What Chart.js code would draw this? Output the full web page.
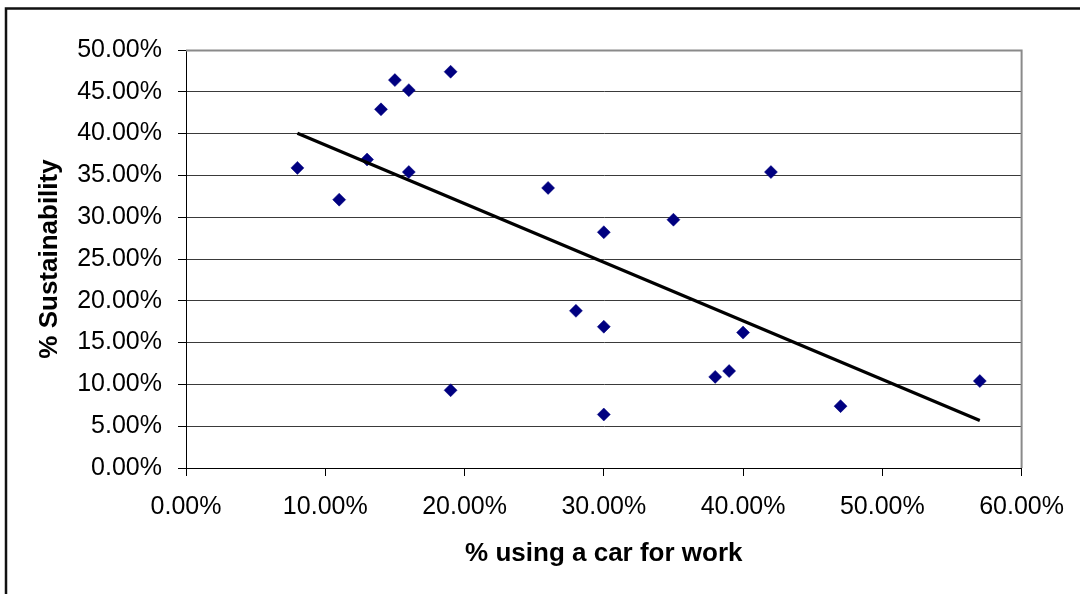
<!DOCTYPE html>
<html>
<head>
<meta charset="utf-8">
<title>% Sustainability vs % using a car for work</title>
<script src="https://cdn.jsdelivr.net/npm/chart.js@4.4.1/dist/chart.umd.min.js"></script>
<style>
  html, body { margin: 0; padding: 0; background: #fff; overflow: hidden; }
  canvas { display: block; }
</style>
</head>
<body>
<canvas id="chart" width="1080" height="594"></canvas>
<script>
// Share of people using a car for work (%), one entry per area
const carUse = [8, 11, 13, 14, 15, 16, 16, 19, 19, 26, 28, 30, 30, 30, 35, 38, 39, 40, 42, 47, 57];
// Sustainability score (%) for the same areas
const sustainability = [35.9, 32.1, 36.9, 42.9, 46.4, 45.2, 35.4, 47.4, 9.3, 33.5, 18.8, 28.2, 16.9, 6.4, 29.7, 10.9, 11.6, 16.2, 35.4, 7.4, 10.4];
// Axis tick values (%)
const xTickValues = [0, 10, 20, 30, 40, 50, 60];
const yTickValues = [0, 5, 10, 15, 20, 25, 30, 35, 40, 45, 50];
const xTitle = '% using a car for work';
const yTitle = '% Sustainability';

const points = carUse.map((x, i) => ({ x: x, y: sustainability[i] }));

// Least-squares linear trend line across the data range
function linearTrend(xs, ys) {
  const n = xs.length;
  const mx = xs.reduce((a, b) => a + b, 0) / n;
  const my = ys.reduce((a, b) => a + b, 0) / n;
  let sxy = 0, sxx = 0;
  for (let i = 0; i < n; i++) {
    sxy += (xs[i] - mx) * (ys[i] - my);
    sxx += (xs[i] - mx) * (xs[i] - mx);
  }
  const slope = sxy / sxx;
  const intercept = my - slope * mx;
  const x0 = Math.min(...xs), x1 = Math.max(...xs);
  return [{ x: x0, y: intercept + slope * x0 }, { x: x1, y: intercept + slope * x1 }];
}
const trend = linearTrend(carUse, sustainability);

const FONT = '"Liberation Sans", Arial, Helvetica, sans-serif';
const pct = v => Number(v).toFixed(2) + '%';

// Outer frame and the grey plot-area edges
const framePlugin = {
  id: 'frame',
  beforeDraw(chart) {
    const ctx = chart.ctx;
    ctx.save();
    ctx.fillStyle = '#fff';
    ctx.fillRect(0, 0, chart.width, chart.height);
    ctx.strokeStyle = '#111';
    ctx.lineWidth = 2.5;
    ctx.strokeRect(6, 8.5, chart.width + 20, chart.height + 20);
    ctx.restore();
  },
  beforeDatasetsDraw(chart) {
    const { ctx, chartArea: a } = chart;
    ctx.save();
    ctx.strokeStyle = '#8a8a8a';
    ctx.lineWidth = 2;
    ctx.beginPath();
    ctx.moveTo(a.left, a.top + 0.5);
    ctx.lineTo(a.right, a.top + 0.5);
    ctx.lineTo(a.right, a.bottom);
    ctx.stroke();
    ctx.restore();
  }
};

new Chart(document.getElementById('chart'), {
  type: 'scatter',
  data: {
    datasets: [
      {
        type: 'line',
        label: 'Linear trend',
        data: trend,
        borderColor: '#000',
        borderWidth: 3.2,
        pointRadius: 0,
        fill: false,
        order: 0
      },
      {
        label: yTitle,
        data: points,
        pointStyle: 'rectRot',
        pointRadius: 6.5,
        pointBorderWidth: 0.5,
        backgroundColor: '#000080',
        borderColor: '#000080',
        order: 1
      }
    ]
  },
  options: {
    responsive: false,
    animation: false,
    devicePixelRatio: 1,
    layout: { padding: { left: 0, top: 50, right: 57, bottom: 0 } },
    plugins: { legend: { display: false }, tooltip: { enabled: false } },
    scales: {
      x: {
        type: 'linear',
        min: 0,
        max: 60,
        afterBuildTicks: s => { s.ticks = xTickValues.map(v => ({ value: v })); },
        afterFit: s => { s.height = 126; },
        grid: { drawOnChartArea: false, drawTicks: true, tickLength: 8, color: '#000', lineWidth: 1 },
        border: { display: true, color: '#000', width: 1 },
        ticks: { color: '#000', font: { family: FONT, size: 25 }, padding: 16, maxRotation: 0, callback: pct },
        title: { display: true, text: xTitle, color: '#000', font: { family: FONT, size: 26, weight: 'bold' }, padding: { top: 0, bottom: 25 } }
      },
      y: {
        type: 'linear',
        min: 0,
        max: 50,
        afterBuildTicks: s => { s.ticks = yTickValues.map(v => ({ value: v })); },
        afterFit: s => { s.width = 186; },
        grid: { drawOnChartArea: true, drawTicks: true, tickLength: 8, color: '#3a3a3a', tickColor: '#000', lineWidth: 1 },
        border: { display: true, color: '#000', width: 1 },
        ticks: { color: '#000', font: { family: FONT, size: 25 }, padding: 16, callback: pct },
        title: { display: true, text: yTitle, color: '#000', font: { family: FONT, size: 26, weight: 'bold' }, padding: { top: 34, bottom: 0 } }
      }
    }
  },
  plugins: [framePlugin]
});
</script>
</body>
</html>
